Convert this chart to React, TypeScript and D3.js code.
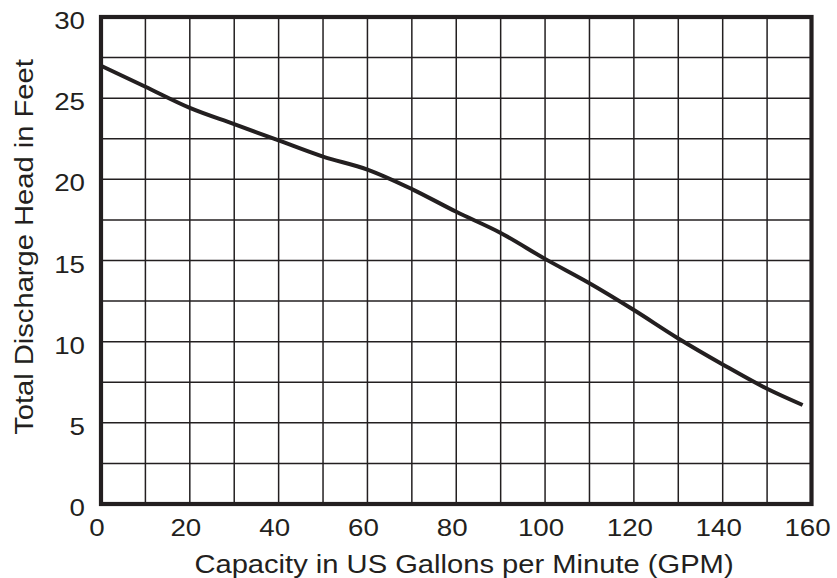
import React from "react";
import * as d3 from "d3";

const gpm = [0, 10, 20, 30, 40, 50, 60, 70, 80, 90, 100, 110, 120, 130, 140, 150, 158];
const head = [27.0, 25.7, 24.4, 23.4, 22.4, 21.4, 20.6, 19.4, 18.0, 16.7, 15.1, 13.6, 11.95, 10.2, 8.6, 7.1, 6.1];
const xTicks = [0, 20, 40, 60, 80, 100, 120, 140, 160];
const yTicks = [0, 5, 10, 15, 20, 25, 30];
const xGrid = d3.range(0, 161, 10);
const yGrid = d3.range(0, 30.01, 2.5);

const W = 837, H = 578;
const L = 101, R = 811.5, T = 17, B = 504;
const ink = "#231f20";
const font = "'Liberation Sans', Arial, Helvetica, sans-serif";
const tickSize = 23.5, tickStretch = 1.18;
const titleSize = 25, titleStretch = 1.166;

export default function App() {
  const x = d3.scaleLinear().domain([0, 160]).range([L, R]);
  const y = d3.scaleLinear().domain([0, 30]).range([B, T]);
  const pts: [number, number][] = gpm.map((g, i) => [g, head[i]]);
  const line = d3.line<[number, number]>().x(d => x(d[0])).y(d => y(d[1])).curve(d3.curveMonotoneX);
  return (
    <svg width={W} height={H} style={{ position: "absolute", left: 0, top: 0, background: "#fff" }}>
      <rect x={0} y={0} width={W} height={H} fill="#fff" />
      {xGrid.map(g => (
        <line key={"xg" + g} x1={x(g)} x2={x(g)} y1={T} y2={B} stroke={ink} strokeWidth={1.5} />
      ))}
      {yGrid.map(g => (
        <line key={"yg" + g} x1={L} x2={R} y1={y(g)} y2={y(g)} stroke={ink} strokeWidth={1.5} />
      ))}
      <path d={line(pts) || ""} fill="none" stroke={ink} strokeWidth={4} strokeLinecap="butt" />
      <rect x={L} y={T} width={R - L} height={B - T} fill="none" stroke={ink} strokeWidth={4.2} />
      {yTicks.map(t => (
        <text key={"yt" + t} transform={`translate(85,${y(t) + 12}) scale(${tickStretch},1)`} textAnchor="end" fontFamily={font} fontSize={tickSize} fill={ink}>
          {t}
        </text>
      ))}
      {xTicks.map(t => (
        <text key={"xt" + t} transform={`translate(${x(t) - 4},536) scale(${tickStretch},1)`} textAnchor="middle" fontFamily={font} fontSize={tickSize} fill={ink}>
          {t}
        </text>
      ))}
      <text transform={`translate(464,573) scale(${titleStretch},1)`} textAnchor="middle" fontFamily={font} fontSize={titleSize} fill={ink}>
        Capacity in US Gallons per Minute (GPM)
      </text>
      <text transform={`translate(33,247) rotate(-90) scale(${titleStretch},1)`} textAnchor="middle" fontFamily={font} fontSize={titleSize} fill={ink}>
        Total Discharge Head in Feet
      </text>
    </svg>
  );
}
